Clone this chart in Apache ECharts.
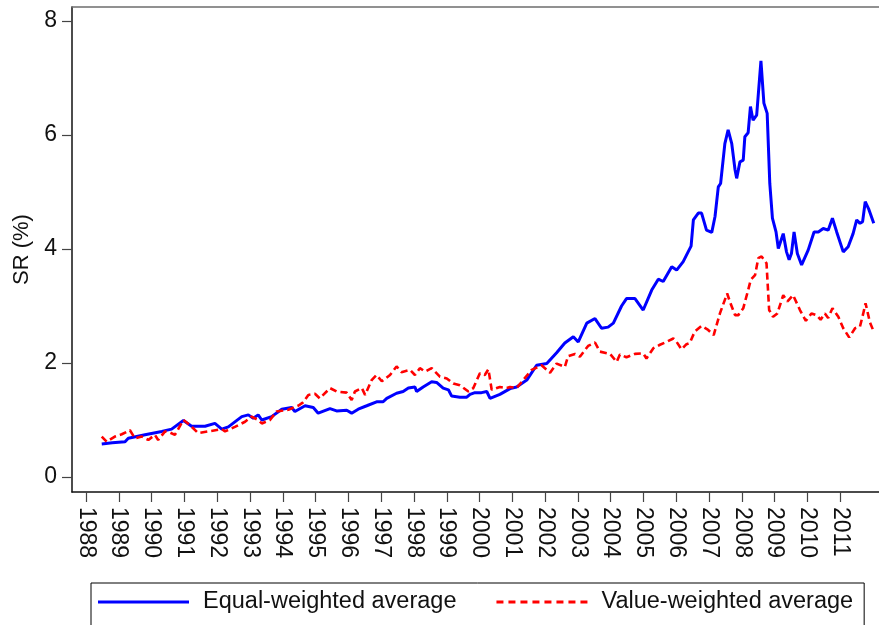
<!DOCTYPE html>
<html>
<head>
<meta charset="utf-8">
<script src="https://cdn.jsdelivr.net/npm/echarts@6/dist/echarts.min.js"></script>
<style>
html,body{margin:0;padding:0;background:#fff;}
#chart{width:879px;height:625px;}
</style>
</head>
<body>
<div id="chart"></div>
<script>
// Tick labels
const yearTicks = [1988,1989,1990,1991,1992,1993,1994,1995,1996,1997,1998,1999,2000,2001,2002,2003,2004,2005,2006,2007,2008,2009,2010,2011];
const yTicks = [0,2,4,6,8];

// Equal-weighted average (time in decimal years, SR in %)
const ewT = [1988.48,1988.80,1989.19,1989.29,1989.80,1990.31,1990.61,1990.97,1991.22,1991.63,1991.93,1992.14,1992.34,1992.75,1992.95,1993.10,1993.25,1993.36,1993.66,1993.97,1994.27,1994.37,1994.68,1994.93,
1995.08,1995.44,1995.64,1995.95,1996.10,1996.30,1996.56,1996.86,1997.06,1997.17,1997.47,1997.67,1997.83,1998.03,1998.08,1998.28,1998.54,1998.69,1998.89,1999.05,1999.15,1999.40,1999.61,1999.71,1999.86,2000.06,2000.22,2000.32,2000.62,2000.93,
2001.13,2001.44,2001.74,2002.05,2002.35,2002.60,2002.86,2003.01,2003.27,2003.52,2003.72,2003.92,2004.08,2004.33,2004.48,2004.74,2004.99,2005.25,2005.45,2005.60,2005.86,2006.01,2006.21,2006.36,2006.45,2006.52,2006.67,2006.77,2006.92,
2007.08,2007.18,2007.28,2007.35,2007.48,2007.58,2007.69,2007.79,2007.84,2007.94,2008.04,2008.09,2008.19,2008.26,2008.34,2008.45,2008.58,2008.67,2008.77,2008.85,2008.93,2009.04,2009.11,2009.26,2009.36,2009.44,2009.51,2009.59,2009.69,2009.82,
2010.02,2010.07,2010.20,2010.33,2010.48,2010.63,2010.76,2010.89,2011.09,2011.24,2011.39,2011.50,2011.60,2011.68,2011.76,2011.86,2012.02];
const ewV = [0.58,0.60,0.62,0.68,0.74,0.80,0.84,0.99,0.89,0.89,0.94,0.84,0.88,1.06,1.09,1.03,1.09,1.00,1.06,1.19,1.22,1.15,1.25,1.22,
1.12,1.20,1.16,1.17,1.12,1.19,1.25,1.32,1.32,1.38,1.47,1.50,1.56,1.58,1.50,1.58,1.67,1.66,1.56,1.53,1.42,1.40,1.40,1.45,1.48,1.48,1.50,1.38,1.45,1.55,
1.58,1.70,1.96,1.99,2.18,2.35,2.46,2.37,2.70,2.78,2.61,2.63,2.70,3.00,3.13,3.13,2.93,3.28,3.47,3.43,3.69,3.63,3.78,3.95,4.05,4.51,4.63,4.63,4.33,
4.29,4.57,5.09,5.15,5.85,6.09,5.85,5.39,5.24,5.53,5.56,5.97,6.04,6.50,6.26,6.35,7.30,6.56,6.38,5.15,4.54,4.30,4.01,4.27,3.95,3.81,3.92,4.30,3.92,3.72,
3.98,4.01,4.30,4.30,4.36,4.33,4.54,4.30,3.95,4.04,4.27,4.51,4.45,4.48,4.83,4.71,4.45];

// Value-weighted average
const vwT = [1988.48,1988.63,1988.88,1989.09,1989.34,1989.49,1989.70,1989.90,1990.10,1990.20,1990.41,1990.56,1990.71,1990.97,1991.17,1991.42,1991.73,1992.14,1992.24,1992.54,1992.85,1993.05,1993.25,1993.36,1993.61,1993.81,1994.17,1994.47,1994.62,1994.78,1994.98,
1995.13,1995.44,1995.64,1995.95,1996.10,1996.20,1996.41,1996.51,1996.71,1996.86,1997.02,1997.27,1997.47,1997.62,1997.88,1998.03,1998.18,1998.34,1998.54,1998.79,1999.00,1999.20,1999.40,1999.66,1999.81,2000.01,2000.16,2000.27,2000.37,2000.62,2000.83,2000.93,2001.13,
2001.33,2001.59,2001.89,2002.15,2002.35,2002.60,2002.70,2002.91,2003.06,2003.31,2003.52,2003.67,2003.98,2004.18,2004.28,2004.48,2004.74,2004.99,2005.09,2005.30,2005.50,2005.70,2005.91,2006.01,2006.16,2006.31,2006.41,2006.56,2006.77,2006.97,
2007.14,2007.33,2007.55,2007.65,2007.79,2007.89,2008.04,2008.19,2008.27,2008.40,2008.50,2008.60,2008.75,2008.83,2008.95,2009.08,2009.26,2009.39,2009.56,2009.77,2009.95,2010.12,2010.28,2010.40,2010.53,2010.63,2010.76,2010.94,2011.09,2011.27,2011.45,2011.60,2011.70,2011.77,2011.90,2012.02];
const vwV = [0.71,0.62,0.71,0.75,0.82,0.68,0.71,0.65,0.74,0.65,0.80,0.78,0.74,1.00,0.91,0.77,0.80,0.84,0.80,0.88,0.97,1.06,1.00,0.94,1.00,1.15,1.18,1.25,1.31,1.44,1.46,
1.38,1.56,1.50,1.48,1.35,1.50,1.56,1.44,1.70,1.79,1.68,1.79,1.94,1.84,1.88,1.79,1.91,1.85,1.91,1.76,1.73,1.64,1.61,1.50,1.56,1.82,1.79,1.89,1.53,1.58,1.56,1.58,1.56,
1.70,1.88,1.96,1.83,1.99,1.93,2.12,2.16,2.11,2.30,2.36,2.20,2.16,2.02,2.15,2.10,2.16,2.17,2.08,2.26,2.32,2.37,2.43,2.37,2.24,2.33,2.35,2.55,2.65,2.58,
2.49,2.87,3.22,3.05,2.84,2.84,2.96,3.28,3.46,3.54,3.84,3.87,3.75,2.93,2.81,2.87,3.19,3.08,3.19,2.93,2.74,2.87,2.84,2.76,2.87,2.79,2.96,2.81,2.61,2.45,2.61,2.64,2.87,3.05,2.72,2.55];

const pairs = (t, v) => t.map((x, i) => [x, v[i]]);
const FONT = 'Liberation Sans, Arial, sans-serif';
const xMin = 1987.573, xMax = 2012.18;

// legend icons: solid bar and dashed bar
const solidIcon = 'path://M0,0H91V3H0Z';
let dashPath = 'path://';
for (let k = 0; k < 8; k++) { const s = k * 12; dashPath += 'M' + s + ',0H' + (s + 7) + 'V3H' + s + 'Z'; }

const chart = echarts.init(document.getElementById('chart'), null, {renderer: 'canvas'});
chart.setOption({
  animation: false,
  backgroundColor: '#fff',
  textStyle: {fontFamily: FONT},
  grid: {left: 72, top: 7, right: 0, bottom: 133, containLabel: false, outerBoundsMode: 'none'},
  xAxis: [{
    type: 'value', min: xMin, max: xMax,
    axisLine: {onZero: false, lineStyle: {color: '#111', width: 1.5}},
    axisTick: {customValues: yearTicks, length: 10, lineStyle: {color: '#444', width: 1.2}},
    axisLabel: {customValues: yearTicks, rotate: -90, verticalAlign: 'middle', fontSize: 23, color: '#111', margin: 15, fontFamily: FONT,
      formatter: v => String(Math.round(v))},
    splitLine: {show: false}
  }, {
    type: 'value', min: xMin, max: xMax, position: 'top',
    axisLine: {show: true, onZero: false, lineStyle: {color: '#6e6e6e', width: 1.5}},
    axisTick: {show: false}, axisLabel: {show: false}, splitLine: {show: false}
  }],
  yAxis: {
    type: 'value', min: -0.263, max: 8.246,
    name: 'SR (%)', nameLocation: 'middle', nameRotate: 90, nameGap: 39,
    nameTextStyle: {fontSize: 22, color: '#111', fontFamily: FONT},
    axisLine: {show: true, onZero: false, lineStyle: {color: '#111', width: 1.5}},
    axisTick: {show: true, customValues: yTicks, length: 10, lineStyle: {color: '#444', width: 1.2}},
    axisLabel: {customValues: yTicks, fontSize: 23, color: '#111', margin: 15, fontFamily: FONT,
      formatter: v => String(Math.round(v))},
    splitLine: {show: false}
  },
  legend: {
    left: 91, top: 583,
    orient: 'horizontal',
    padding: [7, 11, 20, 7],
    borderColor: '#000', borderWidth: 1,
    itemWidth: 91, itemHeight: 14, itemGap: 40,
    textStyle: {fontSize: 23.5, color: '#111', fontFamily: FONT, padding: [0, 0, 0, 9]},
    data: [
      {name: 'Equal-weighted average', icon: solidIcon},
      {name: 'Value-weighted average', icon: dashPath}
    ]
  },
  series: [{
    name: 'Equal-weighted average', type: 'line', xAxisIndex: 0,
    data: pairs(ewT, ewV), symbol: 'none', smooth: false,
    lineStyle: {color: '#0000ff', width: 3},
    itemStyle: {color: '#0000ff'}
  }, {
    name: 'Value-weighted average', type: 'line', xAxisIndex: 0,
    data: pairs(vwT, vwV), symbol: 'none', smooth: false,
    lineStyle: {color: '#ff0000', width: 2.6, type: [7, 4]},
    itemStyle: {color: '#ff0000'}
  }]
});
</script>
</body>
</html>
